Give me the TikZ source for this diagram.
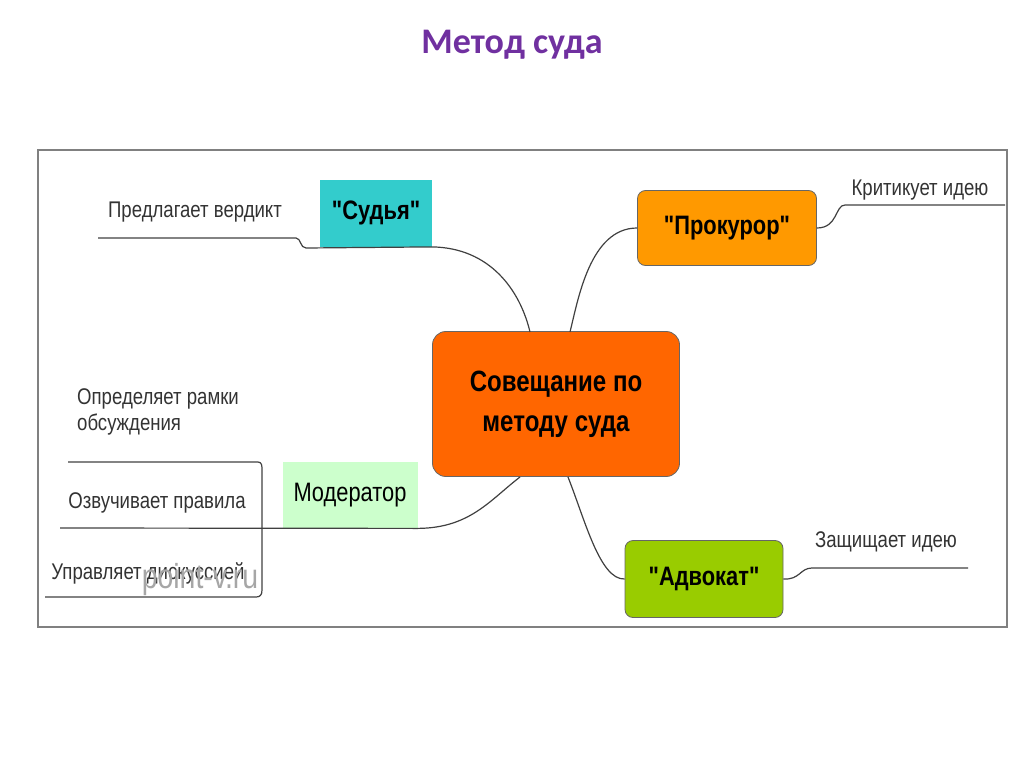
\documentclass[tikz,border=0pt]{standalone}
\usepackage{fontspec}
\defaultfontfeatures{}
\defaultfontfeatures[\rmfamily]{}
\setmainfont{Liberation Sans}[FakeStretch=0.82,Ligatures=ResetAll,BoldFeatures={Ligatures=ResetAll}]
\newfontfamily\titlefont{Carlito}
\newcommand{\dq}{"}
\begin{document}
\begin{tikzpicture}[x=0.75pt,y=-0.75pt,
  conn/.style={draw=black!75,line width=0.9pt},
  lbl/.style={font=\fontsize{17}{19}\selectfont,text=black!80,align=left},
  box/.style={draw=black!60,line width=0.6pt,font=\bfseries\fontsize{20}{23}\selectfont,align=center}]
\useasboundingbox (0,0) rectangle (1024,767);
\node[font=\titlefont\bfseries\fontsize{27}{30}\selectfont,text={rgb,255:red,112;green,48;blue,160}] (title) at (512,45) {Метод суда};
\draw[black!50,line width=0.8pt] (38,150) rectangle (1007,627);
% nodes
\node[box,fill={rgb,255:red,255;green,102;blue,0},rounded corners=10pt,minimum width=247*0.75pt,minimum height=145*0.75pt,font=\bfseries\fontsize{22}{30}\selectfont] (c) at (556,404) {Совещание по\\методу суда};
\node[box,draw=none,fill={rgb,255:red,51;green,204;blue,204},minimum width=112*0.75pt,minimum height=67*0.75pt] (j) at (376,213) {\dq Судья\dq};
\node[box,fill={rgb,255:red,255;green,153;blue,0},rounded corners=6pt,minimum width=179*0.75pt,minimum height=75*0.75pt] (p) at (727,228) {\dq Прокурор\dq};
\node[box,fill={rgb,255:red,153;green,204;blue,0},rounded corners=6pt,minimum width=158*0.75pt,minimum height=77*0.75pt] (a) at (704,579) {\dq Адвокат\dq};
\node[box,draw=none,fill={rgb,255:red,204;green,255;blue,204},minimum width=135*0.75pt,minimum height=66*0.75pt,font=\fontsize{20}{23}\selectfont] (m) at (350,495) {Модератор};
% labels
\node[lbl] (l1) at (195,212) {Предлагает вердикт};
\node[lbl] (l2) at (920,190) {Критикует идею};
\node[lbl] (l3) at (886,542) {Защищает идею};
\node[lbl] (l4) at (158,412) {Определяет рамки\\обсуждения};
\node[lbl] (l5) at (157,503) {Озвучивает правила};
\node[lbl] (l6) at (148,573) {Управляет дискуссией};
\node[text=black!35,font=\fontsize{26}{28}\selectfont] (wm) at (200,580) {point-v.ru};
% connectors
\draw[conn] (98,238) -- (296,238) .. controls (301,238) and (300,248) .. (306,248) -- (j.south east) .. controls (490,248) and (520,290) .. (530,332);
\draw[conn] (1005,205) -- (845,205) .. controls (835,205) and (838,228) .. (p.east);
\draw[conn] (p.west) .. controls (590,228) and (578,300) .. (570,332);
\draw[conn] (968,568) -- (812,568) .. controls (800,568) and (800,580) .. (a.east);
\draw[conn] (a.west) .. controls (600,580) and (585,520) .. (568,477);
\draw[conn] (68,462) -- (258,462) .. controls (262,462) and (262,466) .. (262,470) -- (262,590) .. controls (262,595) and (260,597) .. (256,597) -- (45,597);
\draw[conn] (60,528) -- (m.south east) .. controls (470,528) and (490,500) .. (520,477);
\end{tikzpicture}
\end{document}
